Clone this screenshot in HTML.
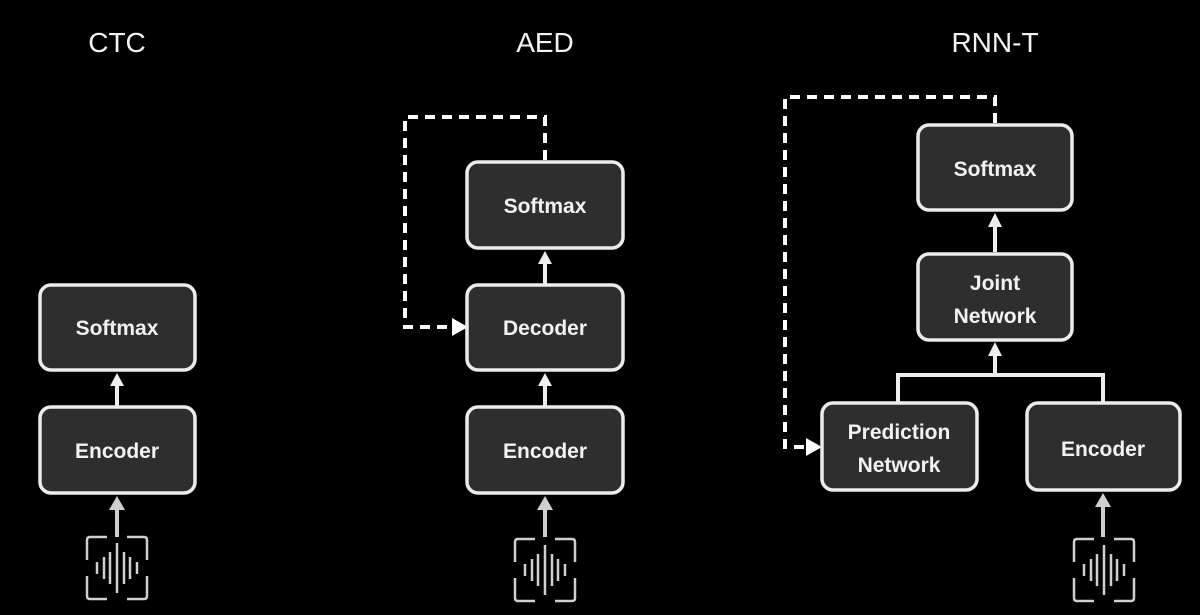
<!DOCTYPE html>
<html><head><style>
html,body{margin:0;padding:0;background:#000;}
svg{display:block;}
text{font-family:"Liberation Sans",sans-serif;}
</style></head><body>
<svg width="1200" height="615" viewBox="0 0 1200 615" xmlns="http://www.w3.org/2000/svg">
<defs>
<g id="icon">
  <g fill="none" stroke="#cfcfcf" stroke-width="2.5" stroke-linejoin="round">
    <path d="M-10,-31 H-27 Q-30,-31 -30,-28 V-8"/><path d="M10,-31 H27 Q30,-31 30,-28 V-8"/>
    <path d="M-30,8 V28 Q-30,31 -27,31 H-10"/><path d="M30,8 V28 Q30,31 27,31 H10"/>
  </g>
  <g stroke="#cfcfcf" stroke-width="2.5">
    <line x1="-20" y1="-6" x2="-20" y2="6"/>
    <line x1="-13" y1="-11" x2="-13" y2="11"/>
    <line x1="-7" y1="-16" x2="-7" y2="16"/>
    <line x1="0" y1="-25" x2="0" y2="25"/>
    <line x1="7" y1="-16" x2="7" y2="16"/>
    <line x1="13" y1="-11" x2="13" y2="11"/>
    <line x1="20" y1="-6" x2="20" y2="6"/>
  </g>
</g>
</defs>
<g fill="#f4f4f4" font-size="28" text-anchor="middle">
<text x="117" y="52">CTC</text>
<text x="545" y="52">AED</text>
<text x="995" y="52">RNN-T</text>
</g>

<g fill="none" stroke="#fff" stroke-width="4" stroke-dasharray="10 7">
<path d="M545,160 V117 H405 V327 H452"/>
<path d="M995,123 V97 H785 V447 H806"/>
</g>
<g fill="#fff">
<polygon points="452,318 468,327 452,336"/>
<polygon points="806,438 822,447 806,456"/>
</g>

<g stroke="#eee" stroke-width="4" fill="none">
<path d="M117,406 V385"/>
<path d="M545,284 V263"/>
<path d="M545,406 V385"/>
<path d="M995,252 V226"/>
<path d="M898,402 V375 H1103 V402"/>
<path d="M995,375 V355"/>
</g>
<g fill="#eee">
<polygon points="110,386 117,373 124,386"/>
<polygon points="538,264 545,251 552,264"/>
<polygon points="538,386 545,373 552,386"/>
<polygon points="988,227 995,213 1002,227"/>
<polygon points="988,356 995,342 1002,356"/>
</g>
<g stroke="#cfcfcf" stroke-width="4">
<line x1="117" y1="537" x2="117" y2="508"/>
<line x1="545" y1="537" x2="545" y2="508"/>
<line x1="1103" y1="537" x2="1103" y2="505"/>
</g>
<g fill="#cfcfcf">
<polygon points="109,510 117,496 125,510"/>
<polygon points="537,510 545,496 553,510"/>
<polygon points="1095,507 1103,493 1111,507"/>
</g>

<g fill="#2e2e2e" stroke="#ececec" stroke-width="3.5">
<rect x="40" y="285" width="155" height="85" rx="11"/>
<rect x="40" y="407" width="155" height="86" rx="11"/>
<rect x="467" y="162" width="156" height="86" rx="11"/>
<rect x="467" y="285" width="156" height="85" rx="11"/>
<rect x="467" y="407" width="156" height="86" rx="11"/>
<rect x="918" y="125" width="154" height="85" rx="11"/>
<rect x="918" y="254" width="154" height="86" rx="11"/>
<rect x="822" y="403" width="155" height="87" rx="11"/>
<rect x="1027" y="403" width="153" height="87" rx="11"/>
</g>
<g fill="#f2f2f2" font-size="21" font-weight="bold" text-anchor="middle">
<text x="117" y="335">Softmax</text>
<text x="117" y="458">Encoder</text>
<text x="545" y="213">Softmax</text>
<text x="545" y="335">Decoder</text>
<text x="545" y="458">Encoder</text>
<text x="995" y="176">Softmax</text>
<text x="995" y="290">Joint</text>
<text x="995" y="323">Network</text>
<text x="899" y="439">Prediction</text>
<text x="899" y="472">Network</text>
<text x="1103" y="456">Encoder</text>
</g>

<use href="#icon" x="117" y="568"/>
<use href="#icon" x="545" y="570"/>
<use href="#icon" x="1104" y="570"/>
</svg>
</body></html>
